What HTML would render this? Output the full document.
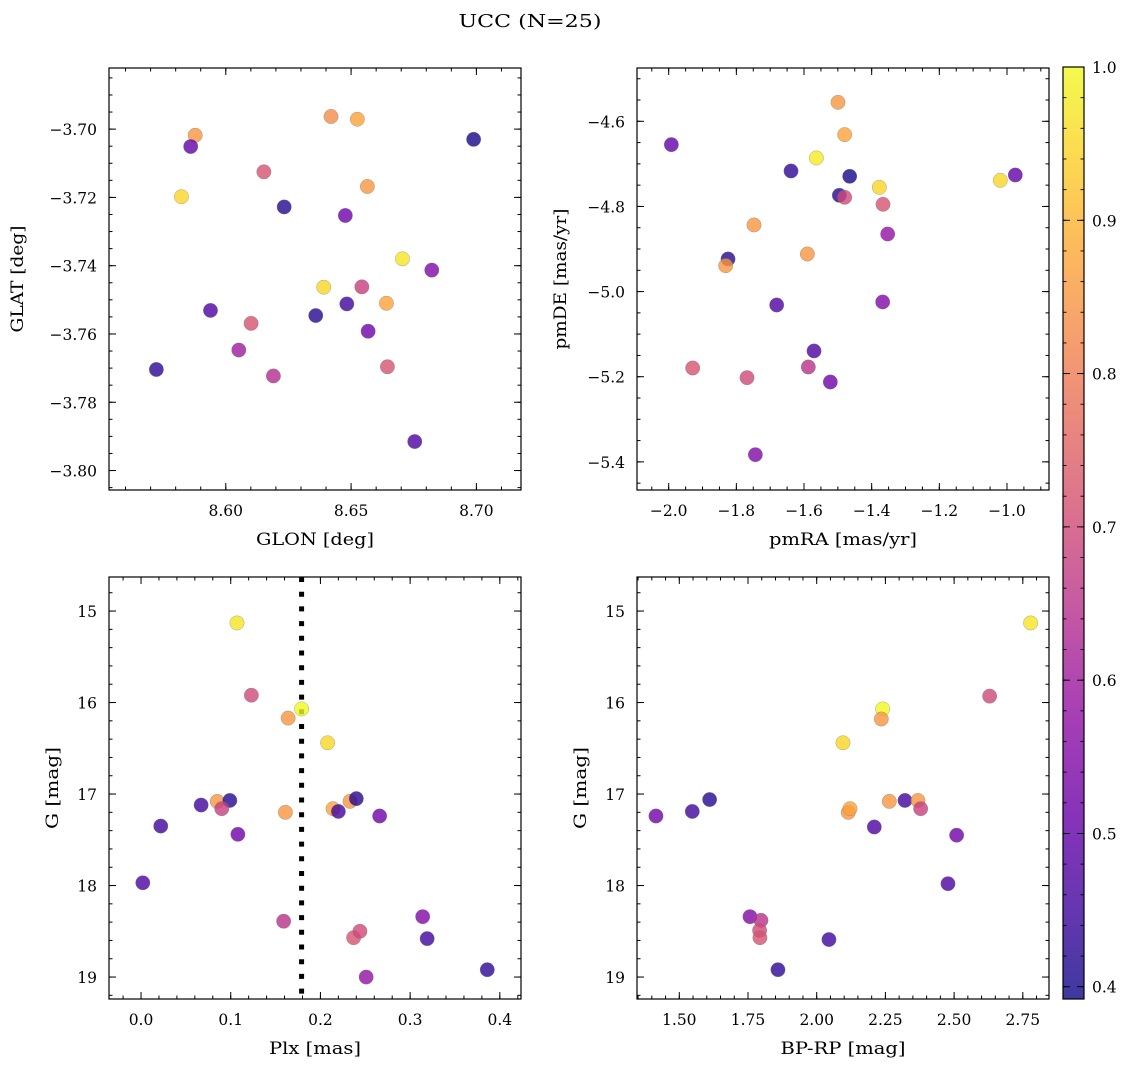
<!DOCTYPE html>
<html>
<head>
<meta charset="utf-8">
<style>
html,body{margin:0;padding:0;background:#fff;}
svg{display:block;}
text{font-family:"DejaVu Serif","Liberation Serif",serif;fill:#000;}
</style>
</head>
<body>
<svg id="fig" width="1136" height="1067" viewBox="0 0 1136 1067" xmlns="http://www.w3.org/2000/svg">
<text x="530" y="27" font-size="18" text-anchor="middle" textLength="143" lengthAdjust="spacingAndGlyphs">UCC (N=25)</text>
</svg>
<script>
// ---- Data: top-left (GLON vs GLAT) ----
const TL_GLON=[8.5878,8.5860,8.5823,8.6420,8.6525,8.6989,8.6152,8.6565,8.6233,8.6477,8.6705,8.6822,8.6391,8.6543,8.6641,8.5939,8.6483,8.6101,8.6359,8.6568,8.6052,8.6645,8.5723,8.6190,8.6754];
const TL_GLAT=[-3.7018,-3.7051,-3.7198,-3.6963,-3.6971,-3.7030,-3.7125,-3.7168,-3.7228,-3.7253,-3.7380,-3.7413,-3.7463,-3.7462,-3.7510,-3.7531,-3.7512,-3.7569,-3.7546,-3.7592,-3.7647,-3.7696,-3.7704,-3.7723,-3.7915];
const TL_PROB=[0.85,0.50,0.95,0.83,0.87,0.40,0.72,0.85,0.42,0.52,0.97,0.55,0.95,0.68,0.87,0.47,0.45,0.72,0.42,0.52,0.60,0.72,0.43,0.64,0.47];
// ---- Data: top-right (pmRA vs pmDE) ----
const TR_PMRA=[-1.4995,-1.4798,-1.9921,-1.5635,-1.6384,-1.4650,-1.3773,-1.0197,-0.9754,-1.4956,-1.4798,-1.3665,-1.7478,-1.3527,-1.8246,-1.8315,-1.5901,-1.3675,-1.6808,-1.5704,-1.9291,-1.5872,-1.7685,-1.5222,-1.7438];
const TR_PMDE=[-4.5554,-4.6313,-4.6548,-4.6861,-4.7167,-4.7292,-4.7551,-4.7386,-4.7261,-4.7738,-4.7785,-4.7950,-4.8435,-4.8647,-4.9234,-4.9391,-4.9117,-5.0244,-5.0315,-5.1395,-5.1795,-5.1771,-5.2022,-5.2124,-5.3831];
const TR_PROB=[0.85,0.87,0.50,0.98,0.43,0.40,0.95,0.95,0.50,0.42,0.70,0.72,0.85,0.58,0.42,0.85,0.85,0.55,0.47,0.47,0.72,0.65,0.70,0.52,0.55];
// ---- Data: bottom-left (Plx vs G) ----
const BL_PLX=[0.107,0.123,0.179,0.164,0.208,0.067,0.085,0.099,0.090,0.108,0.161,0.214,0.220,0.233,0.240,0.266,0.022,0.002,0.159,0.237,0.244,0.314,0.319,0.251,0.386];
const BL_G=[15.13,15.92,16.07,16.17,16.44,17.12,17.08,17.07,17.16,17.44,17.20,17.16,17.19,17.08,17.05,17.24,17.35,17.97,18.39,18.57,18.50,18.34,18.58,19.00,18.92];
const BL_PROB=[0.97,0.70,1.00,0.85,0.95,0.45,0.85,0.42,0.68,0.52,0.85,0.87,0.45,0.85,0.42,0.52,0.45,0.47,0.65,0.72,0.70,0.55,0.45,0.58,0.43];
const PLX_LINE=[0.179];
// ---- Data: bottom-right (BP-RP vs G) ----
const BR_BPRP=[2.7785,2.6293,2.2399,2.2351,2.0956,1.4151,1.5473,1.6104,2.1150,2.1211,2.2096,2.2642,2.3212,2.3685,2.3782,2.5092,2.4777,1.7572,1.7972,1.7923,1.7935,2.0446,1.8590];
const BR_G=[15.13,15.93,16.07,16.18,16.44,17.24,17.19,17.06,17.20,17.16,17.36,17.08,17.07,17.07,17.16,17.45,17.98,18.34,18.38,18.49,18.57,18.59,18.92];
const BR_PROB=[0.97,0.70,1.00,0.85,0.95,0.52,0.45,0.42,0.85,0.87,0.47,0.85,0.45,0.85,0.68,0.52,0.47,0.55,0.65,0.70,0.72,0.45,0.43];
// ---- Tick values ----
const TL_XTICKS=[8.60,8.65,8.70];
const TL_YTICKS=[-3.70,-3.72,-3.74,-3.76,-3.78,-3.80];
const TR_XTICKS=[-2.0,-1.8,-1.6,-1.4,-1.2,-1.0];
const TR_YTICKS=[-4.6,-4.8,-5.0,-5.2,-5.4];
const BL_XTICKS=[0.0,0.1,0.2,0.3,0.4];
const G_TICKS=[15,16,17,18,19];
const BR_XTICKS=[1.50,1.75,2.00,2.25,2.50,2.75];
const CB_TICKS=[0.4,0.5,0.6,0.7,0.8,0.9,1.0];
const CB_MIN=0.392, CB_MAX=1.0;

const NS="http://www.w3.org/2000/svg";
const svg=document.getElementById('fig');
const PLASMA=["#0d0887","#41049d","#6a00a8","#8f0da4","#b12a90","#cc4778","#e16462","#f2844b","#fca636","#fcce25","#f0f921"];
function hex(h){return [parseInt(h.substr(1,2),16),parseInt(h.substr(3,2),16),parseInt(h.substr(5,2),16)];}
function plasma(t){
  t=Math.max(0,Math.min(1,t));
  const f=t*10,i=Math.min(9,Math.floor(f)),r=f-i;
  const a=hex(PLASMA[i]),b=hex(PLASMA[i+1]);
  return 'rgb('+a.map((v,k)=>Math.round(v+(b[k]-v)*r)).join(',')+')';
}
function probColor(p){return plasma((p-CB_MIN)/(CB_MAX-CB_MIN));}
function el(tag,attrs,parent){
  const e=document.createElementNS(NS,tag);
  for(const k in attrs)e.setAttribute(k,attrs[k]);
  (parent||svg).appendChild(e);return e;
}
function fmt(v,d){return v.toFixed(d).replace('-','\u2212');}

function panel(cfg){
  const g=el('g',{});
  
  
  const {x0,y0,w,h}=cfg;
  const sx=v=>x0+(v-cfg.xmin)/(cfg.xmax-cfg.xmin)*w;
  const sy=cfg.yinv?(v=>y0+(v-cfg.ymin)/(cfg.ymax-cfg.ymin)*h):(v=>y0+h-(v-cfg.ymin)/(cfg.ymax-cfg.ymin)*h);
  const pg=el('g',{},g);
  
  
  if(cfg.vline){
    const vl=el('line',{x1:sx(cfg.vline),x2:sx(cfg.vline),y1:y0,y2:y0+h,stroke:'#000','stroke-width':5,'stroke-dasharray':'5,9.7'},pg);
    
    
  }
  for(let i=0;i<cfg.xs.length;i++){
    const c=el('circle',{cx:sx(cfg.xs[i]),cy:sy(cfg.ys[i]),r:7.2,fill:probColor(cfg.ps[i]),'fill-opacity':0.8,stroke:'#777','stroke-opacity':0.6,'stroke-width':0.5},pg);
    
    
  }
  const tg=el('g',{stroke:'#000','stroke-width':1},g);
  
  
  const inRangeX=v=>v>=Math.min(cfg.xmin,cfg.xmax)-1e-9&&v<=Math.max(cfg.xmin,cfg.xmax)+1e-9;
  const inRangeY=v=>v>=Math.min(cfg.ymin,cfg.ymax)-1e-9&&v<=Math.max(cfg.ymin,cfg.ymax)+1e-9;
  const xmaj=cfg.xticks, ymaj=cfg.yticks;
  const xstep=Math.abs(xmaj[1]-xmaj[0]), ystep=Math.abs(ymaj[1]-ymaj[0]);
  const xmin_s=xstep/cfg.xminor, ymin_s=ystep/cfg.yminor;
  const lo=Math.min(cfg.xmin,cfg.xmax),hi=Math.max(cfg.xmin,cfg.xmax);
  for(let v=Math.ceil(lo/xmin_s-1e-6)*xmin_s;v<=hi+1e-9;v+=xmin_s){
    const X=sx(v);
    el('line',{x1:X,x2:X,y1:y0+h,y2:y0+h-3.5},tg);
    el('line',{x1:X,x2:X,y1:y0,y2:y0+3.5},tg);
  }
  const ylo=Math.min(cfg.ymin,cfg.ymax),yhi=Math.max(cfg.ymin,cfg.ymax);
  for(let v=Math.ceil(ylo/ymin_s-1e-6)*ymin_s;v<=yhi+1e-9;v+=ymin_s){
    const Y=sy(v);
    el('line',{x1:x0,x2:x0+3.5,y1:Y,y2:Y},tg);
    el('line',{x1:x0+w,x2:x0+w-3.5,y1:Y,y2:Y},tg);
  }
  xmaj.forEach(v=>{
    if(!inRangeX(v))return;
    const X=sx(v);
    el('line',{x1:X,x2:X,y1:y0+h,y2:y0+h-7},tg);
    el('line',{x1:X,x2:X,y1:y0,y2:y0+7},tg);
    const t=el('text',{x:X,y:y0+h+26,'font-size':15.5,'text-anchor':'middle'},g);
    t.textContent=fmt(v,cfg.xdec);
    
    
  });
  ymaj.forEach(v=>{
    if(!inRangeY(v))return;
    const Y=sy(v);
    el('line',{x1:x0,x2:x0+7,y1:Y,y2:Y},tg);
    el('line',{x1:x0+w,x2:x0+w-7,y1:Y,y2:Y},tg);
    const t=el('text',{x:x0-12,y:Y+6,'font-size':15.5,'text-anchor':'end'},g);
    t.textContent=fmt(v,cfg.ydec);
    
    
  });
  const fr=el('rect',{x:x0,y:y0,width:w,height:h,fill:'none',stroke:'#000','stroke-width':1.2},g);
  
  
  const xl=el('text',{x:x0+w/2,y:y0+h+55,'font-size':16.5,'text-anchor':'middle',textLength:cfg.xlw,lengthAdjust:'spacingAndGlyphs'},g);
  xl.textContent=cfg.xlabel;
  
  
  const yl=el('text',{x:cfg.ylx,y:y0+h/2,'font-size':16.5,'text-anchor':'middle',textLength:cfg.ylw,lengthAdjust:'spacingAndGlyphs',transform:'rotate(-90 '+cfg.ylx+' '+(y0+h/2)+')'},g);
  yl.textContent=cfg.ylabel;
  
  
}

panel({name:'glon-glat-panel',x0:109,y0:68,w:412,h:422,xmin:8.5534,xmax:8.7178,ymin:-3.8057,ymax:-3.6821,
  xs:TL_GLON,ys:TL_GLAT,ps:TL_PROB,xticks:TL_XTICKS,yticks:TL_YTICKS,xminor:5,yminor:4,xdec:2,ydec:2,
  xlabel:'GLON [deg]',ylabel:'GLAT [deg]',ylx:23,xlw:118,ylw:107});
panel({name:'pm-panel',x0:637,y0:68,w:412,h:422,xmin:-2.0937,xmax:-0.8758,ymin:-5.4661,ymax:-4.4748,
  xs:TR_PMRA,ys:TR_PMDE,ps:TR_PROB,xticks:TR_XTICKS,yticks:TR_YTICKS,xminor:4,yminor:4,xdec:1,ydec:1,
  xlabel:'pmRA [mas/yr]',ylabel:'pmDE [mas/yr]',ylx:566,xlw:148,ylw:141});
panel({name:'plx-g-panel',x0:109,y0:577,w:412,h:422,xmin:-0.0357,xmax:0.4236,ymin:14.628,ymax:19.240,yinv:true,
  xs:BL_PLX,ys:BL_G,ps:BL_PROB,xticks:BL_XTICKS,yticks:G_TICKS,xminor:5,yminor:5,xdec:1,ydec:0,vline:PLX_LINE[0],
  xlabel:'Plx [mas]',ylabel:'G [mag]',ylx:58,xlw:92,ylw:82});
panel({name:'cmd-panel',x0:637,y0:577,w:412,h:422,xmin:1.3461,xmax:2.8453,ymin:14.628,ymax:19.240,yinv:true,
  xs:BR_BPRP,ys:BR_G,ps:BR_PROB,xticks:BR_XTICKS,yticks:G_TICKS,xminor:5,yminor:5,xdec:2,ydec:0,
  xlabel:'BP-RP [mag]',ylabel:'G [mag]',ylx:586,xlw:125,ylw:82});

(function(){
  const x0=1063,y0=67,w=21,h=932;
  const cg=el('g',{});
  
  
  const defs=el('defs',{},cg);
  const lg=el('linearGradient',{id:'cbgrad',x1:0,y1:1,x2:0,y2:0},defs);
  for(let i=0;i<=20;i++){el('stop',{offset:(i/20),'stop-color':plasma(i/20)},lg);}
  el('rect',{x:x0,y:y0,width:w,height:h,fill:'url(#cbgrad)','fill-opacity':0.8},cg);
  const sy=v=>y0+h-(v-CB_MIN)/(CB_MAX-CB_MIN)*h;
  const tg=el('g',{stroke:'#000','stroke-width':0.9},cg);
  for(let v=0.40;v<=CB_MAX+1e-9;v+=0.02){
    const Y=sy(v);
    el('line',{x1:x0,x2:x0+3.5,y1:Y,y2:Y},tg);
    el('line',{x1:x0+w,x2:x0+w-3.5,y1:Y,y2:Y},tg);
  }
  CB_TICKS.forEach(v=>{
    const Y=sy(v);
    el('line',{x1:x0,x2:x0+7,y1:Y,y2:Y},tg);
    el('line',{x1:x0+w,x2:x0+w-7,y1:Y,y2:Y},tg);
    const t=el('text',{x:x0+w+8,y:Y+6,'font-size':15.5},cg);
    t.textContent=v.toFixed(1);
    
    
  });
  el('rect',{x:x0,y:y0,width:w,height:h,fill:'none',stroke:'#000','stroke-width':1.2},cg);
})();
</script>
</body>
</html>
